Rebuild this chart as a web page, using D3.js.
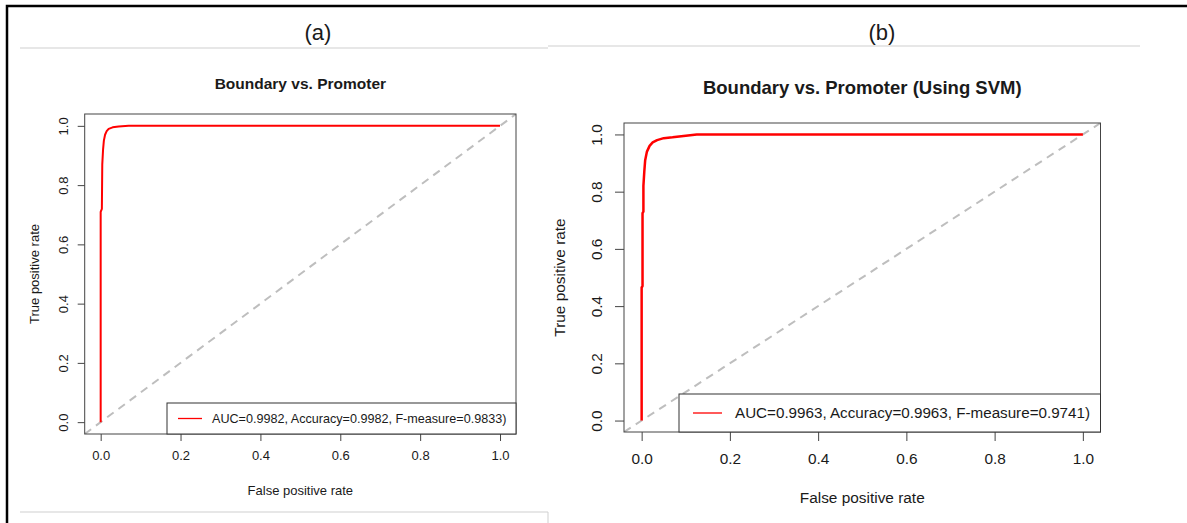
<!DOCTYPE html>
<html>
<head>
<meta charset="utf-8">
<script src="https://cdn.jsdelivr.net/npm/d3@7"></script>
<style>
  html, body { margin: 0; padding: 0; background: #fff; }
  svg { display: block; }
  text { font-family: "Liberation Sans", Arial, sans-serif; fill: #1a1a1a; }
</style>
</head>
<body>
<svg id="chart" width="1187" height="523"></svg>
<script>
// ROC curve for panel (a)
const fprA = [0, 0, 0.003, 0.004, 0.006, 0.008, 0.011, 0.015, 0.02, 0.03, 0.045, 0.07, 1];
const tprA = [0, 0.71, 0.72, 0.87, 0.92, 0.95, 0.97, 0.982, 0.99, 0.995, 0.998, 1, 1];

// ROC curve for panel (b), SVM
const fprB = [0, 0, 0.002, 0.002, 0.004, 0.004, 0.006, 0.008, 0.012, 0.018, 0.025, 0.035, 0.05, 0.07, 0.09, 0.125, 1];
const tprB = [0, 0.465, 0.47, 0.725, 0.73, 0.82, 0.87, 0.91, 0.94, 0.96, 0.972, 0.98, 0.987, 0.99, 0.994, 1, 1];

const ticks = [0, 0.2, 0.4, 0.6, 0.8, 1.0];
const panelLabels = ['(a)', '(b)'];
const titles = ['Boundary vs. Promoter', 'Boundary vs. Promoter (Using SVM)'];
const legendLabels = [
    'AUC=0.9982, Accuracy=0.9982, F-measure=0.9833)',
    'AUC=0.9963, Accuracy=0.9963, F-measure=0.9741)'
];
const xTitle = 'False positive rate';
const yTitle = 'True positive rate';

const svg = d3.select('#chart');

/* page decoration: the black frame and the thin grey rules */
svg.append('path')
    .attr('d', 'M7,523 L7,6 L1187,6')
    .attr('fill', 'none')
    .attr('stroke', '#000')
    .attr('stroke-width', 2.5);

const rules = [
    [20, 48, 548, 48], [548, 46, 1140, 46],
    [20, 512, 548, 512], [548, 512, 548, 523]
];
svg.selectAll('line.rule').data(rules).enter().append('line')
    .attr('class', 'rule')
    .attr('x1', d => d[0]).attr('y1', d => d[1])
    .attr('x2', d => d[2]).attr('y2', d => d[3])
    .attr('stroke', '#cfcfcf')
    .attr('stroke-width', 1);

/* one R-style ROC plot; box is the plot region, domain padded by 4% like R */
function drawPanel(p) {
    const x = d3.scaleLinear().domain([-0.04, 1.04]).range([p.box.left, p.box.right]);
    const y = d3.scaleLinear().domain([-0.04, 1.04]).range([p.box.bottom, p.box.top]);
    const g = svg.append('g');

    g.append('text')
        .attr('x', p.labelX).attr('y', 40)
        .attr('text-anchor', 'middle')
        .style('font-size', '22px')
        .text(p.label);

    g.append('text')
        .attr('x', (x(0) + x(1)) / 2).attr('y', p.titleY)
        .attr('text-anchor', 'middle')
        .style('font-size', p.titleSize + 'px')
        .style('font-weight', 'bold')
        .text(p.title);

    const clipId = 'clip' + p.id;
    g.append('clipPath').attr('id', clipId).append('rect')
        .attr('x', p.box.left).attr('y', p.box.top)
        .attr('width', p.box.right - p.box.left)
        .attr('height', p.box.bottom - p.box.top);

    // chance diagonal (abline), spans the whole plot region
    g.append('line')
        .attr('clip-path', `url(#${clipId})`)
        .attr('x1', x(-0.04)).attr('y1', y(-0.04))
        .attr('x2', x(1.04)).attr('y2', y(1.04))
        .attr('stroke', '#bebebe')
        .attr('stroke-width', 2)
        .attr('stroke-dasharray', '8,6');

    const line = d3.line().x(d => x(d[0])).y(d => y(d[1]));
    g.append('path')
        .datum(p.fpr.map((f, i) => [f, p.tpr[i]]))
        .attr('d', line)
        .attr('fill', 'none')
        .attr('stroke', '#ff0000')
        .attr('stroke-width', p.lineWidth)
        .attr('stroke-linejoin', 'round');

    // axes
    const xAxis = g.append('g')
        .attr('transform', `translate(0,${p.box.bottom})`)
        .call(d3.axisBottom(x).tickValues(ticks).tickFormat(d3.format('.1f'))
            .tickSize(p.tickLen).tickPadding(p.tickPad));
    const yAxis = g.append('g')
        .attr('transform', `translate(${p.box.left},0)`)
        .call(d3.axisLeft(y).tickValues(ticks).tickFormat(d3.format('.1f'))
            .tickSize(p.tickLen).tickPadding(p.tickPad));
    [xAxis, yAxis].forEach(a => {
        a.select('.domain').remove();
        a.selectAll('.tick line').attr('stroke', '#444');
        a.selectAll('.tick text')
            .style('font-size', p.fontSize + 'px')
            .style('font-family', '"Liberation Sans", Arial, sans-serif')
            .attr('fill', '#1a1a1a');
    });
    // R rotates the y labels (las = 0)
    yAxis.selectAll('.tick text')
        .attr('x', null)
        .attr('text-anchor', 'middle')
        .attr('transform', `translate(${p.yTickX - p.box.left},0) rotate(-90)`)
        .attr('dy', '0.35em');

    g.append('rect')
        .attr('x', p.box.left).attr('y', p.box.top)
        .attr('width', p.box.right - p.box.left)
        .attr('height', p.box.bottom - p.box.top)
        .attr('fill', 'none')
        .attr('stroke', '#444')
        .attr('stroke-width', 1);

    g.append('text')
        .attr('x', (x(0) + x(1)) / 2).attr('y', p.xTitleY)
        .attr('text-anchor', 'middle')
        .attr('dy', '0.35em')
        .style('font-size', p.fontSize + 'px')
        .text(xTitle);
    g.append('text')
        .attr('transform', `translate(${p.yTitleX},${(y(0) + y(1)) / 2}) rotate(-90)`)
        .attr('text-anchor', 'middle')
        .attr('dy', '0.35em')
        .style('font-size', p.fontSize + 'px')
        .text(yTitle);

    // legend, bottom right
    const lg = p.legend;
    g.append('rect')
        .attr('x', lg.left).attr('y', lg.top)
        .attr('width', p.box.right - lg.left)
        .attr('height', p.box.bottom - lg.top)
        .attr('fill', '#fff')
        .attr('stroke', '#333')
        .attr('stroke-width', 1);
    const midY = (lg.top + p.box.bottom) / 2;
    g.append('line')
        .attr('x1', lg.left + lg.lineStart).attr('x2', lg.left + lg.lineEnd)
        .attr('y1', midY).attr('y2', midY)
        .attr('stroke', '#ff0000')
        .attr('stroke-width', 1.3);
    g.append('text')
        .attr('x', lg.left + lg.textStart).attr('y', midY)
        .attr('dy', '0.35em')
        .style('font-size', lg.fontSize + 'px')
        .text(p.legendLabel);
}

drawPanel({
    id: 'a', label: panelLabels[0], labelX: 318, title: titles[0], titleY: 89, titleSize: 15.5,
    box: { left: 84.7, right: 516, top: 114, bottom: 434 },
    fpr: fprA, tpr: tprA, lineWidth: 2,
    fontSize: 13, tickLen: 7, tickPad: 10, yTickX: 63, yTitleX: 34, xTitleY: 490,
    legend: { left: 167, top: 403, lineStart: 11, lineEnd: 35, textStart: 45, fontSize: 12.6 },
    legendLabel: legendLabels[0]
});

drawPanel({
    id: 'b', label: panelLabels[1], labelX: 882, title: titles[1], titleY: 94, titleSize: 18.5,
    box: { left: 624, right: 1100.5, top: 123, bottom: 432 },
    fpr: fprB, tpr: tprB, lineWidth: 2.5,
    fontSize: 15.4, tickLen: 9, tickPad: 12, yTickX: 597, yTitleX: 560, xTitleY: 498,
    legend: { left: 679, top: 394, lineStart: 14, lineEnd: 43, textStart: 56, fontSize: 15.2 },
    legendLabel: legendLabels[1]
});
</script>
</body>
</html>
